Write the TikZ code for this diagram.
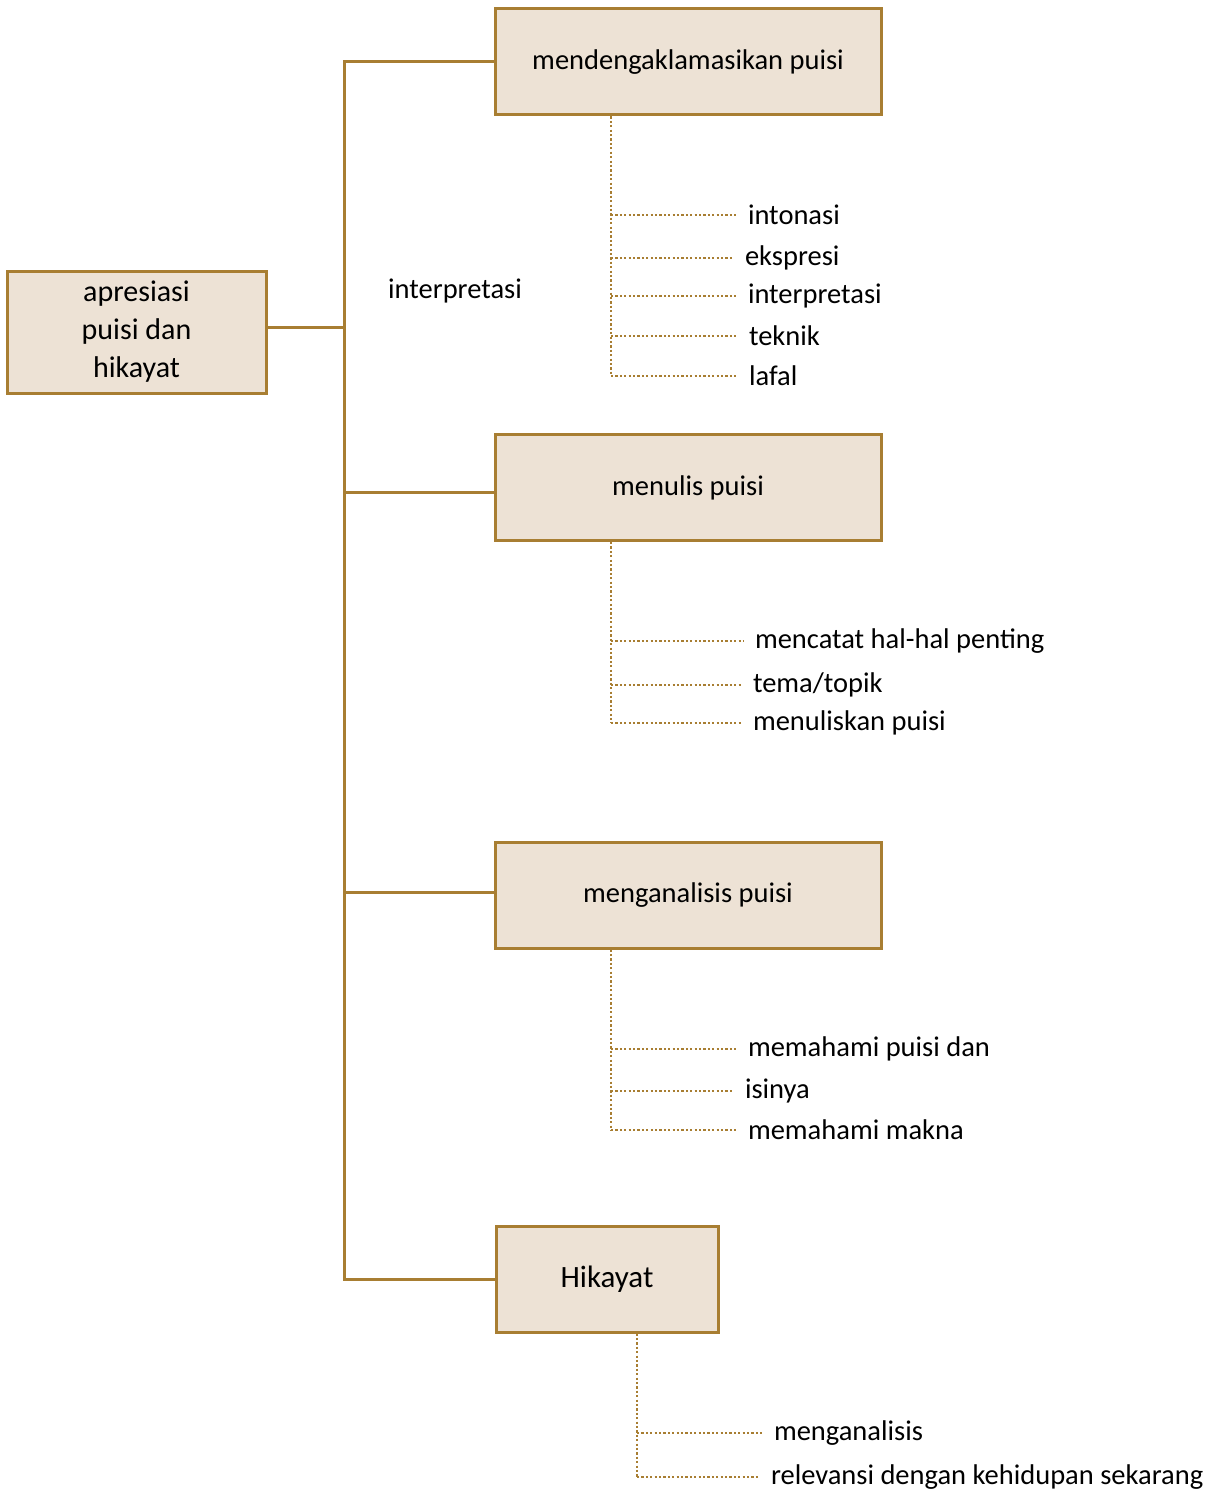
\documentclass[tikz,border=0pt]{standalone}
\usepackage{fontspec}
\setmainfont{Carlito}
\usepackage{tikz}

\definecolor{gold}{RGB}{168,126,50}
\definecolor{sand}{RGB}{237,226,213}
\tikzset{
  box/.style={rectangle, draw=gold, line width=3pt, fill=sand, inner sep=2pt, align=center, font=\fontsize{28.5}{34}\selectfont},
  link/.style={draw=gold, line width=3pt},
  dots/.style={draw=gold, line width=2.4pt, dash pattern=on 2.2pt off 2.2pt},
  leaf/.style={anchor=west, inner sep=0pt, outer xsep=11pt, font=\fontsize{28.5}{34}\selectfont}
}

\begin{document}
\begin{tikzpicture}[x=1pt, y=-1pt]
    \useasboundingbox (0,0) rectangle (1218,1493);

    \node[box, minimum width=259pt, minimum height=122pt, font=\fontsize{30}{38}\selectfont] (root) at (136.5,332) {apresiasi\\puisi dan\\hikayat};

    \foreach \pos/\name/\w/\txt in {{(688,62)/b1/386/mendengaklamasikan puisi}, {(688,487.5)/b2/386/menulis puisi}, {(688,895)/b3/386/menganalisis puisi}}
        \node[box, minimum width=\w pt, minimum height=106pt] (\name) at \pos {\txt};
    \node[box, minimum width=222pt, minimum height=106pt, font=\fontsize{31}{36}\selectfont] (b4) at (607,1279) {Hikayat};

    \node[font=\fontsize{28.5}{34}\selectfont, inner sep=0pt] (note) at (455,291) {interpretasi};

    % trunk
    \coordinate (trunk) at (344,700);
    \coordinate (j0) at ([yshift=5pt]root.east);
    \coordinate (j2) at ([yshift=-4.5pt]b2.west);
    \coordinate (j3) at ([yshift=3pt]b3.west);
    \draw[link] (b1.west) -| (trunk) |- (b4.west);
    \draw[link] (j0) -- (j0 -| trunk);
    \draw[link] (j2) -- (j2 -| trunk);
    \draw[link] (j3) -- (j3 -| trunk);

    % spines
    \coordinate (s1) at ([xshift=-77pt]b1.south);
    \coordinate (s2) at ([xshift=-77pt]b2.south);
    \coordinate (s3) at ([xshift=-77pt]b3.south);
    \coordinate (s4) at ([xshift=30pt]b4.south);

    \foreach \pos/\name/\sp/\txt in {{(737,215)/l1/s1/intonasi}, {(734,258)/l2/s1/ekspresi}, {(737,296)/l3/s1/interpretasi}, {(738,336)/l4/s1/teknik}, {(738,376)/l5/s1/lafal},
                                     {(744,641)/l6/s2/mencatat hal-hal penting}, {(742,685)/l7/s2/{tema/topik}}, {(742,723)/l8/s2/menuliskan puisi},
                                     {(737,1049)/l9/s3/memahami puisi dan}, {(734,1091)/l10/s3/isinya}, {(737,1130)/l11/s3/memahami makna},
                                     {(763,1433)/l12/s4/menganalisis}, {(760,1477)/l13/s4/relevansi dengan kehidupan sekarang}}
    {
        \node[leaf] (\name) at \pos {\txt};
        \draw[dots] (\sp |- \name.west) -- (\name.west);
    }

    \draw[dots] (s1) -- (s1 |- l5.west);
    \draw[dots] (s2) -- (s2 |- l8.west);
    \draw[dots] (s3) -- (s3 |- l11.west);
    \draw[dots] (s4) -- (s4 |- l13.west);
\end{tikzpicture}
\end{document}
